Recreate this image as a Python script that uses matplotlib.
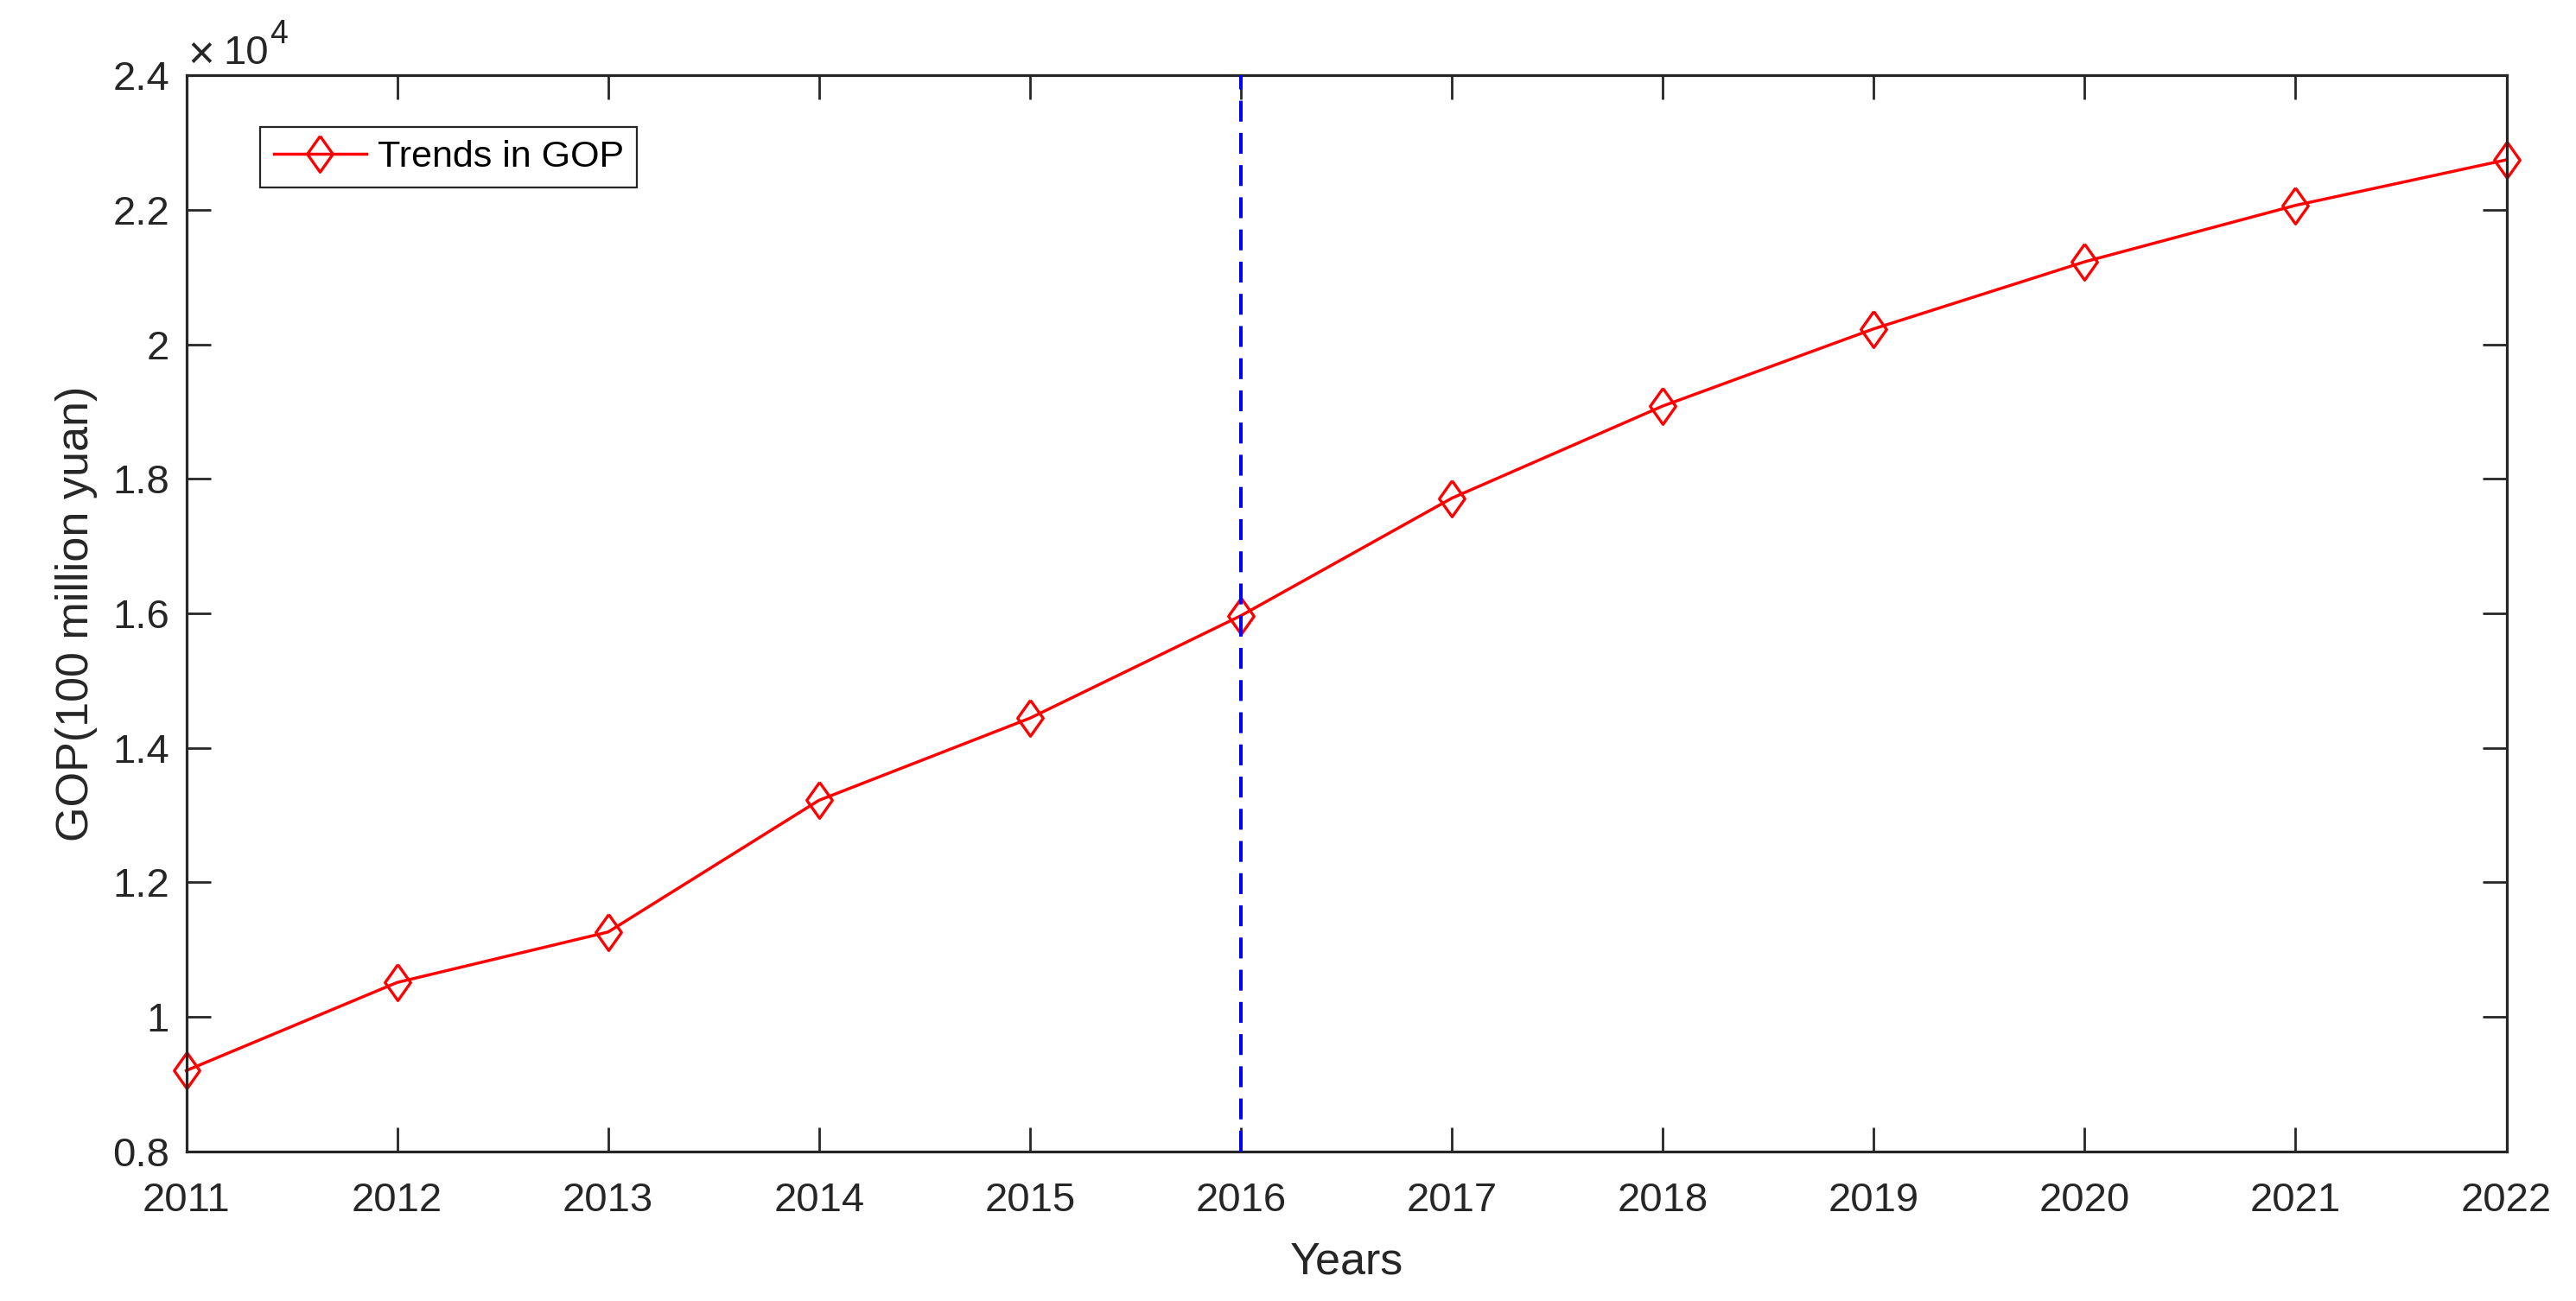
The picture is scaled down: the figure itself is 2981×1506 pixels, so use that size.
""" GOP trend line chart, MATLAB look """
import matplotlib
matplotlib.use("Agg")
import matplotlib.pyplot as plt
from matplotlib.markers import MarkerStyle
from matplotlib.ticker import FuncFormatter

plt.rcParams['font.family'] = ['Liberation Sans', 'DejaVu Sans']

years = [2011, 2012, 2013, 2014, 2015, 2016, 2017, 2018, 2019, 2020, 2021, 2022]
gop = [9203, 10513, 11263, 13221, 14442, 15965, 17712, 19082, 20229, 21226, 22065, 22742]
split_year = 2016
y_ticks = [8000, 10000, 12000, 14000, 16000, 18000, 20000, 22000, 24000]
series_label = "Trends in GOP"

dark = (0.15, 0.15, 0.15)
diamond = MarkerStyle([(0, 1), (0.71, 0), (0, -1), (-0.71, 0), (0, 1)],
                      joinstyle='miter')

if __name__ == "__main__":
    fig = plt.figure(figsize=(29.81, 15.06), dpi=100)
    ax = fig.add_axes([0.0723, 0.1149, 0.9730 - 0.0723, 0.9422 - 0.1149])

    ax.plot(years, gop, color='red', lw=2.5, marker=diamond, ms=30,
            mfc='none', mec='red', mew=2.4, label=series_label,
            zorder=2, clip_on=False)
    ax.axvline(split_year, color='blue', lw=2.9, ls=(0, (6, 3.25)), zorder=3)

    ax.set_xlim(years[0], years[-1])
    ax.set_ylim(y_ticks[0], y_ticks[-1])
    ax.set_xticks(years)
    ax.set_yticks(y_ticks)
    ax.yaxis.set_major_formatter(FuncFormatter(lambda v, _: f"{v / 1e4:g}"))

    ax.tick_params(direction='in', length=20, width=2, colors=dark,
                   labelsize=34, top=True, right=True)
    ax.tick_params(axis='x', pad=25)
    ax.tick_params(axis='y', pad=14)
    for s in ax.spines.values():
        s.set_linewidth(2.3)
        s.set_color(dark)

    ax.set_xlabel("Years", fontsize=37.5, color=dark)
    ax.set_ylabel("GOP(100 million yuan)", fontsize=37.5, color=dark)
    ax.xaxis.set_label_coords(0.5, -0.0835)
    ax.yaxis.set_label_coords(-0.038, 0.5)

    # exponent label, MATLAB style
    ax.text(0.0007, 1.0058, "\u00d7", transform=ax.transAxes,
            fontsize=38, color=dark, va='baseline', ha='left')
    ax.text(0.0160, 1.0104, "10", transform=ax.transAxes,
            fontsize=34, color=dark, va='baseline', ha='left')
    ax.text(0.0361, 1.0297, "4", transform=ax.transAxes,
            fontsize=27, color=dark, va='baseline', ha='left')

    leg = ax.legend(loc='upper left', bbox_to_anchor=(0.032, 0.952),
                    borderaxespad=0, fontsize=31, fancybox=False,
                    framealpha=1, edgecolor=dark, borderpad=0.35,
                    handlelength=2.5, handletextpad=0.3)
    leg.get_frame().set_linewidth(1.6)

    fig.savefig("out.png", dpi=100)
